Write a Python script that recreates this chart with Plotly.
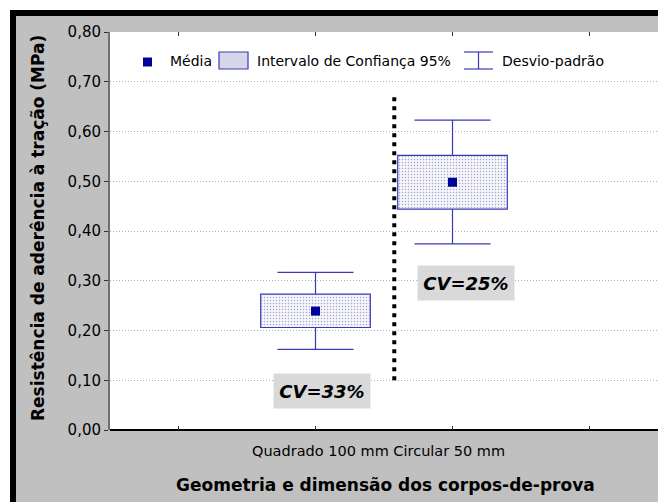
import plotly.graph_objects as go

# ---- data ----
categories = ["Quadrado 100 mm", "Circular 50 mm"]
x_pos = [2, 3]
means = [0.239, 0.498]
ci_low = [0.206, 0.444]
ci_high = [0.273, 0.552]
sd_low = [0.162, 0.374]
sd_high = [0.317, 0.623]
cv_labels = ["CV=33%", "CV=25%"]
y_ticks = [0.0, 0.1, 0.2, 0.3, 0.4, 0.5, 0.6, 0.7, 0.8]

W, H = 658, 502
ML, MR, MT, MB = 110, 0, 32, 72
PW, PH = W - ML - MR, H - MT - MB


def px(xp):
    return (xp - ML) / PW


def py(yp):
    return (H - MB - yp) / PH


BLUE_LINE = "#3a3ab8"
BLUE_DARK = "#00009a"
FONT = "DejaVu Sans"

fig = go.Figure()

# whiskers (standard deviation) on the lower axis so the boxes cover them
fig.add_trace(go.Scatter(
    x=x_pos, y=means, mode="markers",
    marker=dict(size=1, color="rgba(0,0,0,0)"),
    error_y=dict(type="data", symmetric=False,
                 array=[h - m for h, m in zip(sd_high, means)],
                 arrayminus=[m - l for m, l in zip(means, sd_low)],
                 width=38, thickness=1.2, color=BLUE_LINE),
    showlegend=False, hoverinfo="skip", yaxis="y"))

# confidence interval boxes
fig.add_trace(go.Bar(
    x=x_pos, base=ci_low, y=[h - l for h, l in zip(ci_high, ci_low)],
    width=0.8,
    marker=dict(color="#f6f6fb", line=dict(color=BLUE_LINE, width=1.2),
                pattern=dict(shape=".", fgcolor="#5050a8", size=3, solidity=0.2)),
    showlegend=False, yaxis="y2"))

# means
fig.add_trace(go.Scatter(
    x=x_pos, y=means, mode="markers",
    marker=dict(symbol="square", size=9, color=BLUE_DARK),
    showlegend=False, yaxis="y2"))

shapes = []
# frame: white margin, black border (paper bg is gray)
shapes.append(dict(type="rect", xref="paper", yref="paper", x0=-0.3, x1=1.1,
                   y0=py(10), y1=1.3, fillcolor="white", line_width=0, layer="below"))
shapes.append(dict(type="rect", xref="paper", yref="paper", x0=-0.3, x1=px(10),
                   y0=-0.3, y1=1.3, fillcolor="white", line_width=0, layer="below"))
shapes.append(dict(type="rect", xref="paper", yref="paper", x0=px(10), x1=1.1,
                   y0=py(16), y1=py(10), fillcolor="black", line_width=0, layer="below"))
shapes.append(dict(type="rect", xref="paper", yref="paper", x0=px(10), x1=px(16),
                   y0=-0.3, y1=py(10), fillcolor="black", line_width=0, layer="below"))

# dotted separator
shapes.append(dict(type="line", xref="x", yref="y", x0=2.575, x1=2.575, y0=0.10, y1=0.67,
                   line=dict(color="black", width=4, dash="4px,5px")))

# legend symbols
shapes.append(dict(type="rect", xref="paper", yref="paper", x0=px(143), x1=px(152),
                   y0=py(66.5), y1=py(57.5), fillcolor=BLUE_DARK, line_width=0))
shapes.append(dict(type="rect", xref="paper", yref="paper", x0=px(219), x1=px(248),
                   y0=py(69), y1=py(52), fillcolor="#d6d6e8",
                   line=dict(color=BLUE_LINE, width=1.2)))
for yy in (52, 69):
    shapes.append(dict(type="line", xref="paper", yref="paper", x0=px(464), x1=px(493),
                       y0=py(yy), y1=py(yy), line=dict(color=BLUE_LINE, width=1.2)))
shapes.append(dict(type="line", xref="paper", yref="paper", x0=px(478.5), x1=px(478.5),
                   y0=py(69), y1=py(52), line=dict(color=BLUE_LINE, width=1.2)))

annotations = []
for txt, xl in (("Média", 168), ("Intervalo de Confiança 95%", 255), ("Desvio-padrão", 500)):
    annotations.append(dict(text=txt, xref="paper", yref="paper", x=px(xl), y=py(61),
                            xanchor="left", yanchor="middle", showarrow=False,
                            font=dict(family=FONT, size=14, color="black")))

cv_pos = [(2.05, 0.078), (3.10, 0.296)]
for txt, (cx, cy) in zip(cv_labels, cv_pos):
    annotations.append(dict(text="<b><i>" + txt + "</i></b>", x=cx, y=cy, xref="x", yref="y",
                            showarrow=False, bgcolor="#d9d9d9", width=88, height=26,
                            borderpad=4, font=dict(family=FONT, size=18, color="black")))

# category labels (run together, as in the original)
annotations.append(dict(text=" ".join(categories), xref="x", yref="paper",
                        x=sum(x_pos) / len(x_pos) - 0.04, y=py(451),
                        showarrow=False, xanchor="center", yanchor="middle",
                        font=dict(family=FONT, size=14.5, color="black")))

annotations.append(dict(text="<b>Resistência de aderência à tração (MPa)</b>",
                        xref="paper", yref="paper", x=px(38), y=py(228), textangle=-90,
                        showarrow=False, xanchor="center", yanchor="middle",
                        font=dict(family=FONT, size=17, color="black")))
annotations.append(dict(text="<b>Geometria e dimensão dos corpos-de-prova</b>",
                        xref="paper", yref="paper", x=px(385), y=py(485),
                        showarrow=False, xanchor="center", yanchor="middle",
                        font=dict(family=FONT, size=17, color="black")))

fig.update_layout(
    width=W, height=H,
    margin=dict(l=ML, r=MR, t=MT, b=MB, pad=0),
    paper_bgcolor="#c0c0c0", plot_bgcolor="white",
    separators=",.",
    showlegend=False,
    shapes=shapes, annotations=annotations,
    xaxis=dict(range=[0.5, 4.5], tickvals=[1, 2, 3, 4],
               showticklabels=False,
               ticks="inside", ticklen=4, tickcolor="#303030", mirror="ticks",
               showline=False, showgrid=False, zeroline=False),
    yaxis=dict(range=[0, 0.8], tickvals=y_ticks, tickformat=".2f",
               ticks="outside", ticklen=4, tickcolor="#303030",
               showline=True, linecolor="#707070", linewidth=2,
               showgrid=True, gridcolor="#b0b0b0", griddash="1px,2px", gridwidth=1,
               zeroline=True, zerolinecolor="black", zerolinewidth=1.5,
               tickfont=dict(family=FONT, size=15, color="black")),
    yaxis2=dict(range=[0, 0.8], overlaying="y", visible=False),
)

fig.write_html("out.html",
               config={"displayModeBar": False},
               post_script="document.body.style.margin='0';"
                           "document.body.style.overflow='hidden';")
